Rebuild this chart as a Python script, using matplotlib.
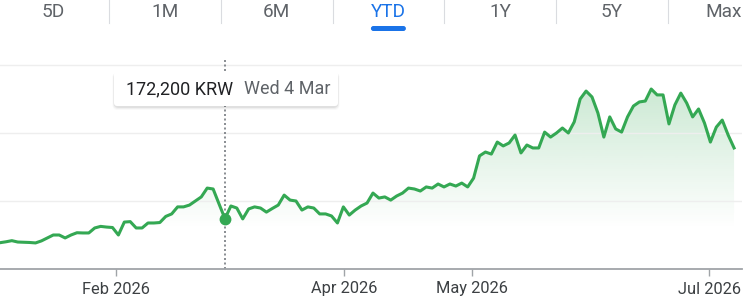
import numpy as np
import matplotlib
matplotlib.use('Agg')
import matplotlib.pyplot as plt
from matplotlib.patches import FancyBboxPatch, Polygon
from matplotlib.lines import Line2D
from matplotlib.transforms import IdentityTransform

plt.rcParams['font.family'] = ['Roboto', 'DejaVu Sans']

# Daily closing prices (KRW), one per trading session, Jan - early Jul 2026
prices = [
    161600, 162000, 162500, 161900, 161800, 161700, 161500, 162400, 163700, 165000,
    165000, 163700, 165000, 166000, 165900, 165900, 168100, 168800, 168500, 168300,
    165000, 170700, 170900, 168100, 168100, 170300, 170300, 170500, 173200, 174300,
    177400, 177400, 178200, 180000, 181800, 185700, 185300, 178700, 172200, 177800,
    176900, 172100, 176500, 177400, 176900, 175100, 176700, 178200, 182600, 180400,
    180000, 176000, 177400, 176900, 174300, 174300, 173400, 170300, 177400, 173800,
    176000, 177800, 179100, 183500, 181300, 181800, 180400, 182200, 183500, 185700,
    185300, 184400, 186200, 185700, 187500, 186200, 187500, 186600, 187900, 186200,
    190100, 199900, 201600, 200700, 206000, 204300, 205600, 209100, 201200, 204700,
    203400, 203400, 210400, 208200, 210000, 212200, 210000, 214900, 225000, 228500,
    225900, 218800, 208200, 217100, 211800, 210400, 217100, 221900, 223700, 224100,
    229400, 226800, 226800, 214000, 222400, 227600, 223200, 217100, 220600, 214400,
    206000, 212600, 215700, 209100, 203400,
]

# Month ticks, in session-index units
tick_pos = [19.6, 58.1, 79.7, 119.8]
tick_labels = ['Feb 2026', 'Apr 2026', 'May 2026', 'Jul 2026']

# Range tabs across the top
tabs = ['5D', '1M', '6M', 'YTD', '1Y', '5Y', 'Max']
active_tab = 'YTD'

# Hovered point
hover_idx = 38
hover_date = 'Wed 4 Mar'
currency = 'KRW'

grid_levels = [180000, 210000, 240000]

GREEN = '#34a853'
W, H = 748, 307
step_px = 5.92

fig = plt.figure(figsize=(W / 100, H / 100), dpi=100)
ax = fig.add_axes([0, (H - 269) / H, 742 / W, (269 - 58) / H])

x = np.arange(len(prices))
ylo = 150000
yhi = ylo + 211 * 30000 / 68
ax.set_xlim(0, 742 / step_px)
ax.set_ylim(ylo, yhi)

# gradient fill under the line
fade_val = ylo + (269 - 228) * 30000 / 68
top_val = max(prices)
rows = np.linspace(ylo, yhi, 300)
alpha = 0.25 * np.clip((rows - fade_val) / (top_val - fade_val), 0, 1)
img = np.zeros((len(rows), 1, 4))
img[..., 0] = 0x34 / 255
img[..., 1] = 0xa8 / 255
img[..., 2] = 0x53 / 255
img[:, 0, 3] = alpha
im = ax.imshow(img, extent=[0, 742 / step_px, ylo, yhi], origin='lower',
               aspect='auto', interpolation='bilinear', zorder=1)
verts = [(x[0], ylo)] + list(zip(x, prices)) + [(x[-1], ylo)]
poly = Polygon(verts, closed=True, facecolor='none', edgecolor='none')
ax.add_patch(poly)
im.set_clip_path(poly)

ax.plot(x, prices, color=GREEN, lw=2.2, solid_joinstyle='round', zorder=3)

# hover marker
ax.axvline(hover_idx, color='#757a80', lw=1.2, ls=(0, (1.2, 1.5)), zorder=2)
ax.plot(hover_idx, prices[hover_idx], 'o', ms=7.5, color=GREEN, zorder=4)

# grid and axis
ax.set_yticks(grid_levels)
ax.grid(axis='y', color='#eeeeee', lw=1)
ax.tick_params(axis='y', length=0, labelleft=False)
for s in ['top', 'left', 'right']:
    ax.spines[s].set_visible(False)
ax.spines['bottom'].set_color('#a0a4a8')
ax.spines['bottom'].set_linewidth(1.3)
ax.set_xticks(tick_pos)
ax.set_xticklabels(tick_labels)
ax.tick_params(axis='x', length=5, width=1, color='#a0a4a8', pad=4,
               labelsize=11.8, labelcolor='#3c4043')
ax.set_facecolor('white')

# tooltip box with soft shadow (mostly below)
pix = IdentityTransform()
bx, by, bw, bh = 114, H - 106, 224, 35
for i, a in enumerate([0.025, 0.04, 0.06]):
    grow = 2.5 - i
    fig.add_artist(FancyBboxPatch((bx - grow * 0.6, by - 1.5 - grow), bw + 1.2 * grow, bh + grow,
                                  boxstyle='round,pad=0,rounding_size=5',
                                  transform=pix, facecolor='black', alpha=a,
                                  edgecolor='none', zorder=10))
fig.add_artist(FancyBboxPatch((bx, by), bw, bh, boxstyle='round,pad=0,rounding_size=3',
                              transform=pix, facecolor='white', edgecolor='none', zorder=11))
fig.text(126 / W, 1 - 89 / H, f'{prices[hover_idx]:,} {currency}', ha='left', va='center',
         fontsize=13, color='#202124', zorder=12)
fig.text(244 / W, 1 - 89 / H, hover_date, ha='left', va='center',
         fontsize=13, color='#5f6368', zorder=12)

# range tabs
tab_w = 111.8
for k, t in enumerate(tabs):
    cx = 53 + tab_w * k
    col = '#1a73e8' if t == active_tab else '#5f6368'
    fig.text(cx / W, 1 - 12 / H, t, ha='center', va='center', fontsize=13.7, color=col)
    if k > 0:
        sx = cx - tab_w / 2
        fig.add_artist(Line2D([sx / W, sx / W], [1, 1 - 23 / H], transform=fig.transFigure,
                              color='#dadce0', lw=0.8))
    if t == active_tab:
        fig.add_artist(FancyBboxPatch((cx - 17.5, H - 31), 35, 5,
                                      boxstyle='round,pad=0,rounding_size=2.5',
                                      transform=pix, facecolor='#1a73e8', edgecolor='none'))

fig.savefig('out.png', dpi=100)
